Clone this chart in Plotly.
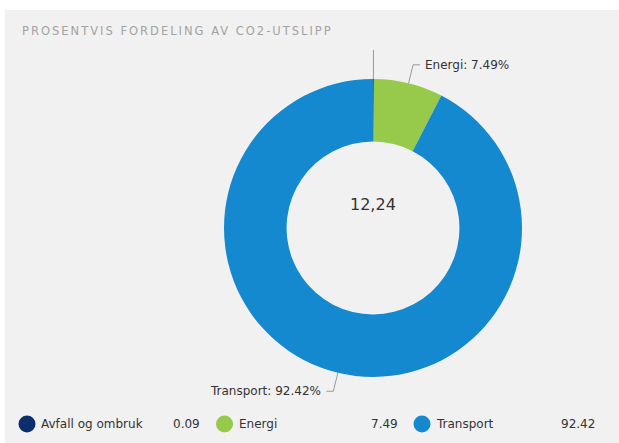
import math
import plotly.graph_objects as go

# ---- data ----
categories = ["Avfall og ombruk", "Energi", "Transport"]
values = [0.09, 7.49, 92.42]
colors = ["#0c2e6c", "#97c94a", "#1589d0"]
center_label = "12,24"
title_text = "PROSENTVIS FORDELING AV CO2-UTSLIPP"
show_label = [False, True, True]

# ---- layout constants (pixels) ----
W, H = 619, 443
CX, CY, R = 373, 228, 149
HOLE = 0.58
FONT = "DejaVu Sans"


def px(x):
    return x / W


def py(y):
    return 1 - y / H


fig = go.Figure()
fig.add_trace(go.Pie(
    labels=categories,
    values=values,
    marker=dict(colors=colors, line=dict(width=0)),
    hole=HOLE,
    sort=False,
    direction="clockwise",
    rotation=0,
    textinfo="none",
    hoverinfo="label+percent",
    showlegend=False,
    domain=dict(x=[px(CX - R), px(CX + R)], y=[py(CY + R), py(CY - R)]),
))

shapes = []
annotations = []

# white border strips (top and left) around the gray panel
shapes.append(dict(type="rect", xref="paper", yref="paper", x0=0, x1=1,
                   y0=py(10), y1=1, fillcolor="white", line=dict(width=0), layer="below"))
shapes.append(dict(type="rect", xref="paper", yref="paper", x0=0, x1=px(5),
                   y0=0, y1=1, fillcolor="white", line=dict(width=0), layer="below"))

# title
annotations.append(dict(text=f'<span style="letter-spacing:2px">{title_text}</span>',
                        xref="paper", yref="paper", x=px(20), y=py(31),
                        xanchor="left", yanchor="middle", showarrow=False,
                        font=dict(family=FONT, size=11.5, color="#a3a3a3")))
# centre label
annotations.append(dict(text=center_label, xref="paper", yref="paper", x=px(CX), y=py(204),
                        xanchor="center", yanchor="middle", showarrow=False,
                        font=dict(family=FONT, size=16, color="#333333")))

# connectors and data labels computed from the data
total = sum(values)
cum = 0.0
for i, (cat, v) in enumerate(zip(categories, values)):
    mid = (cum + v / 2) / total * 2 * math.pi
    cum += v
    s, c = math.sin(mid), math.cos(mid)
    ext = 19 if show_label[i] else 29
    x0, y0 = CX + R * s, CY - R * c
    x1, y1 = CX + (R + ext) * s, CY - (R + ext) * c
    side = 1 if s >= 0 else -1
    x2 = x1 + 7 * side if show_label[i] else x1
    path = f"M {px(x0)},{py(y0)} L {px(x1)},{py(y1)} L {px(x2)},{py(y1)}"
    shapes.append(dict(type="path", xref="paper", yref="paper", path=path,
                       line=dict(color="#9a9a9a", width=1)))
    if show_label[i]:
        pct = v / total * 100
        annotations.append(dict(
            text=f"{cat}: {pct:.2f}%", xref="paper", yref="paper",
            x=px(x2 + 3 * side), y=py(y1),
            xanchor="left" if side > 0 else "right", yanchor="middle",
            showarrow=False, font=dict(family=FONT, size=12, color="#333333")))

# legend (custom, with values)
LEG_Y = 424
for i, (cat, v) in enumerate(zip(categories, values)):
    cx = 27 + i * 197.5
    shapes.append(dict(type="circle", xref="paper", yref="paper",
                       x0=px(cx - 8.5), x1=px(cx + 8.5), y0=py(LEG_Y + 8.5), y1=py(LEG_Y - 8.5),
                       fillcolor=colors[i], line=dict(width=0)))
    annotations.append(dict(text=cat, xref="paper", yref="paper", x=px(cx + 12), y=py(LEG_Y),
                            xanchor="left", yanchor="middle", showarrow=False,
                            font=dict(family=FONT, size=12, color="#333333")))
    annotations.append(dict(text=f"{v:.2f}", xref="paper", yref="paper", x=px(cx + 175), y=py(LEG_Y),
                            xanchor="right", yanchor="middle", showarrow=False,
                            font=dict(family=FONT, size=12, color="#333333")))

fig.update_layout(
    width=W, height=H,
    margin=dict(l=0, r=0, t=0, b=0),
    paper_bgcolor="#f1f1f1",
    plot_bgcolor="#f1f1f1",
    shapes=shapes,
    annotations=annotations,
    showlegend=False,
)

fig.write_html("out.html", config={"displayModeBar": False},
               post_script="document.body.style.margin='0';")
